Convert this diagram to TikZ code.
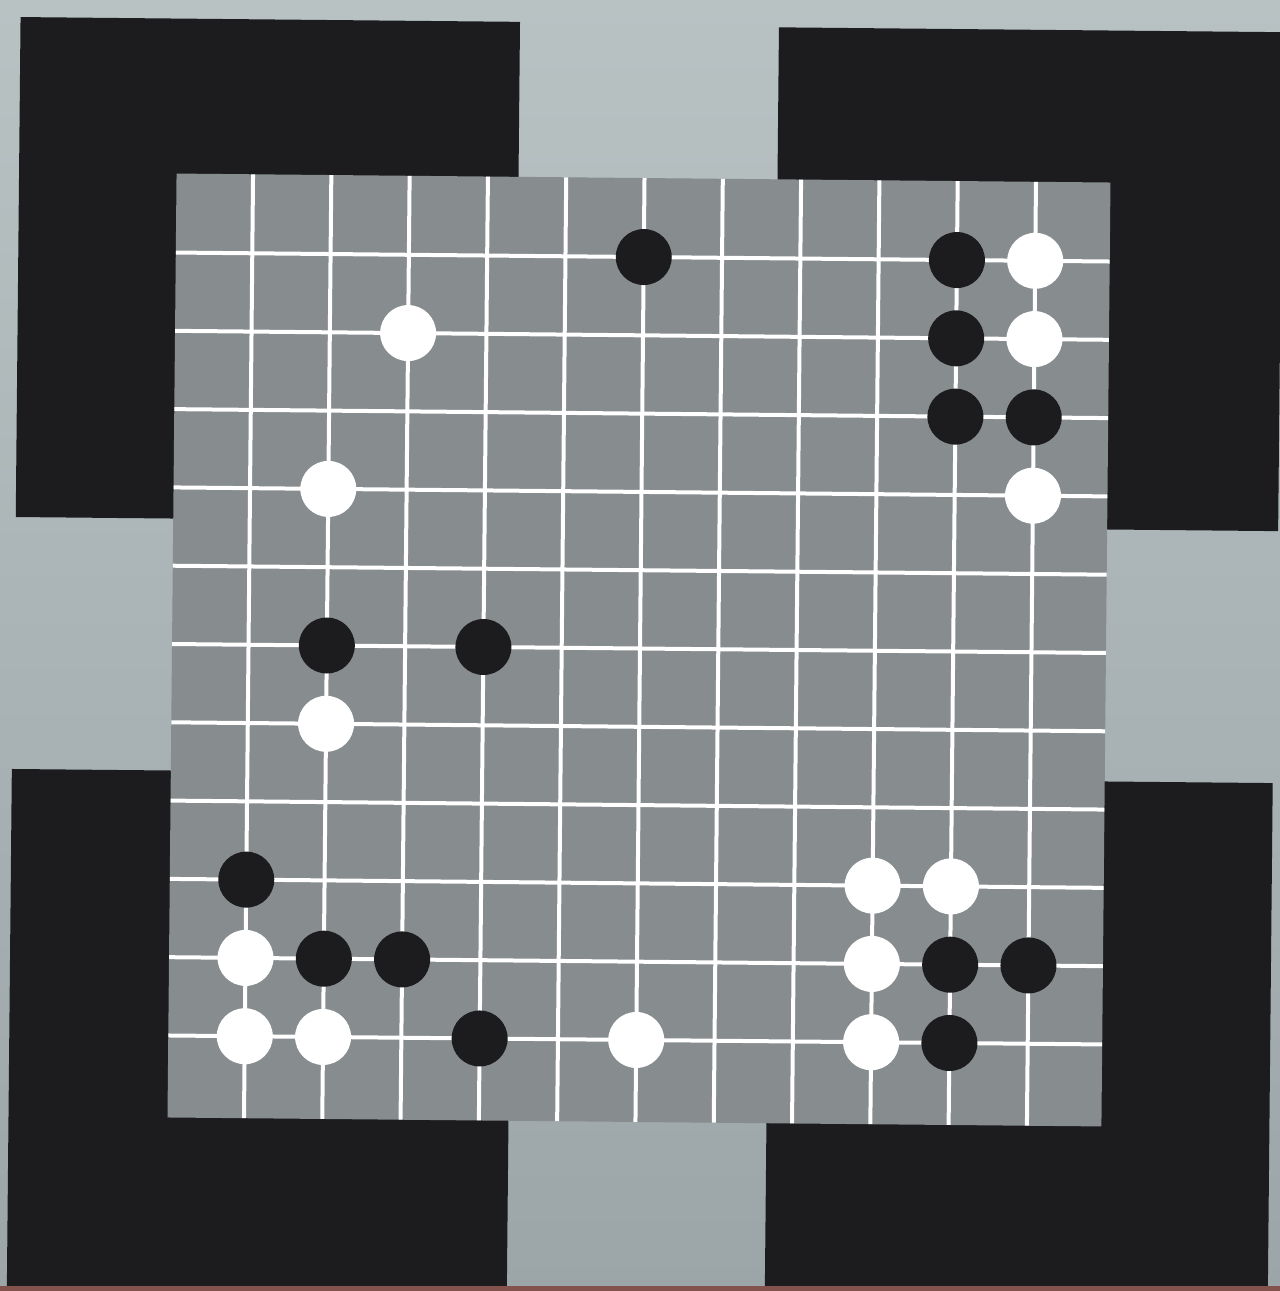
\documentclass[tikz,border=0pt]{standalone}
\definecolor{bgtop}{HTML}{B8C2C3}
\definecolor{bgmid}{HTML}{A0AAAD}
\definecolor{bgbot}{HTML}{9CA5A8}
\definecolor{boardgray}{HTML}{878C8E}
\definecolor{ink}{HTML}{1C1C1E}
\definecolor{stripcol}{HTML}{84524C}
\begin{document}
\begin{tikzpicture}[x=0.5pt,y=-0.5pt,
  blackstone/.style={circle,fill=ink,inner sep=0pt,minimum size=28pt},
  whitestone/.style={circle,fill=white,inner sep=0pt,minimum size=28pt},
  gridline/.style={white,line width=2pt},
  corner/.style={fill=ink}]
\useasboundingbox (0,0) rectangle (1280,1291);
\clip (0,0) rectangle (1280,1291);
\shade[top color=bgtop,middle color=bgmid,bottom color=bgbot] (0,0) rectangle (1280,1291);
\begin{scope}[rotate around={-0.55:(640,648)}]
  % black corner frames
  \fill[corner] (14.5,23) rectangle (514,523);
  \fill[corner] (773,26) rectangle (1277,525);
  \fill[corner] (13,775) rectangle (513,1330);
  \fill[corner] (771,777) rectangle (1274,1330);
  % board
  \fill[boardgray] (172,178) rectangle (1106,1122);
  \foreach \i in {0,...,10} {
    \draw[gridline] ({248.5+78.3*\i},178) -- ({248.5+78.3*\i},1122);
    \draw[gridline] (172,{257+78.3*\i}) -- (1106,{257+78.3*\i});
  }
  % black stones
  \foreach \c/\r [count=\k] in {5/0,9/0,9/1,9/2,10/2,1/5,3/5,0/8,1/9,2/9,3/10,9/9,10/9,9/10}
    \node[blackstone] (b\k) at ({248.5+78.3*\c},{257+78.3*\r}) {};
  % white stones
  \foreach \c/\r [count=\k] in {10/0,10/1,10/3,2/1,1/3,1/6,0/9,0/10,1/10,5/10,8/8,9/8,8/9,8/10}
    \node[whitestone] (w\k) at ({248.5+78.3*\c},{257+78.3*\r}) {};
\end{scope}
\fill[stripcol] (0,1286) rectangle (1280,1291);
\end{tikzpicture}
\end{document}
